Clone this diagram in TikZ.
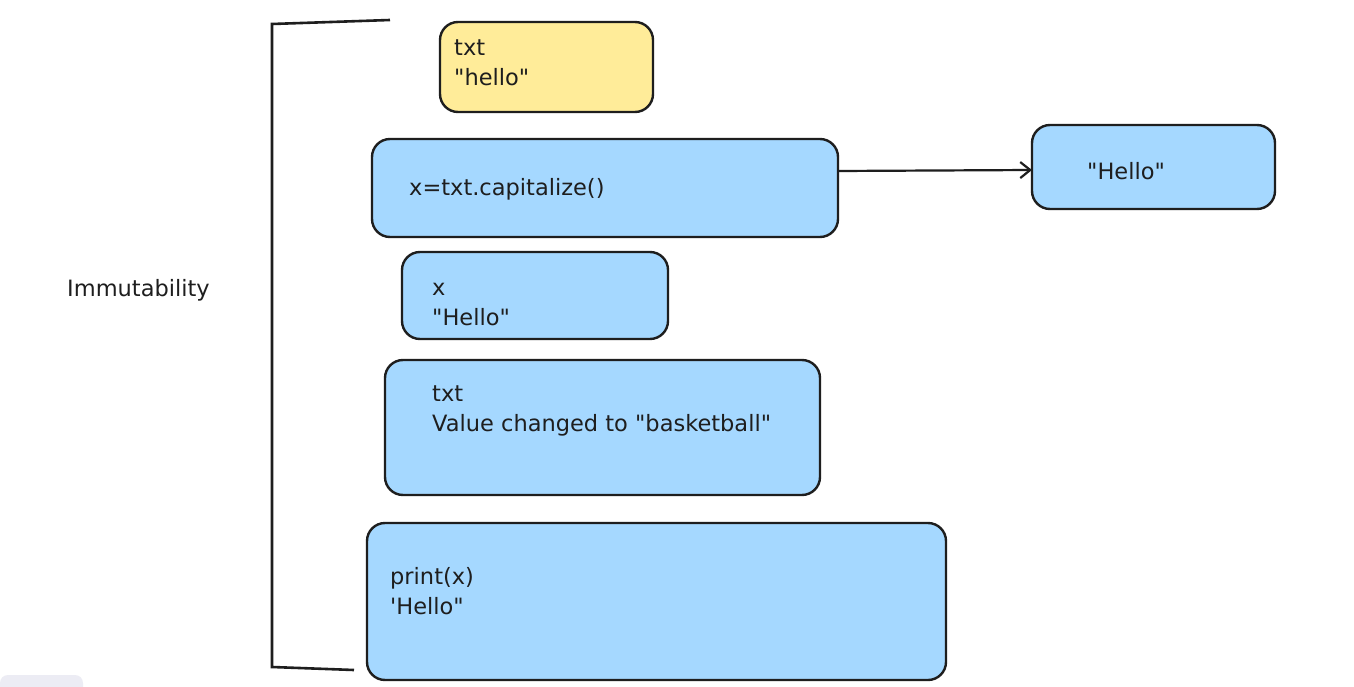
\documentclass[tikz,border=0pt]{standalone}
\usetikzlibrary{arrows.meta}
\font\hf="DejaVu Sans:" at 22.5pt
\definecolor{ylw}{HTML}{FFEC99}
\definecolor{blu}{HTML}{A5D8FF}
\definecolor{ink}{HTML}{1E1E1E}
\definecolor{uigray}{HTML}{ECECF4}
\begin{document}
\begin{tikzpicture}[x=1pt,y=-1pt,
  box/.style={draw=ink,line width=2.4pt,rounded corners=18pt},
  lbl/.style={anchor=west,inner sep=0pt,font={\hf\baselineskip=30pt},text=ink,align=left},
  line/.style={draw=ink,line width=2.6pt}]
\useasboundingbox (0,0) rectangle (1354,687);
\fill[white] (0,0) rectangle (1354,687);
% ui artifact
\fill[uigray,rounded corners=8pt] (0,675) rectangle (83,700);
% bracket
\coordinate (bt) at (390,20);
\coordinate (tl) at (272,24);
\coordinate (bl) at (272,667);
\coordinate (bb) at (354,670);
\draw[line] (bt) -- (tl) -- (bl) -- (bb);
\node[lbl] (imm) at (67,290) {Immutability};
% boxes
\draw[box,fill=ylw] (440,22) rectangle (653,112);
\node[lbl] (t1) at (454,63) {txt\\"hello"};
\draw[box,fill=blu] (372,139) rectangle (838,237);
\coordinate (b1e) at (838,171);
\node[lbl] (t2) at (409,189) {x=txt.capitalize()};
\draw[box,fill=blu] (1032,125) rectangle (1275,209);
\coordinate (b2w) at (1032,170);
\node[lbl] (t3) at (1087,171) {"Hello"};
\draw[box,fill=blu] (402,252) rectangle (668,339);
\node[lbl] (t4) at (432,305) {x\\"Hello"};
\draw[box,fill=blu] (385,360) rectangle (820,495);
\node[lbl] (t5) at (432,411) {txt\\Value changed to "basketball"};
\draw[box,fill=blu] (367,523) rectangle (946,680);
\node[lbl] (t6) at (390,591) {print(x)\\'Hello"};
% arrow
\draw[line,line width=2.2pt,-{Straight Barb[length=10pt,width=16pt,line width=2.2pt]}] (b1e) -- (b2w);
\end{tikzpicture}
\end{document}
